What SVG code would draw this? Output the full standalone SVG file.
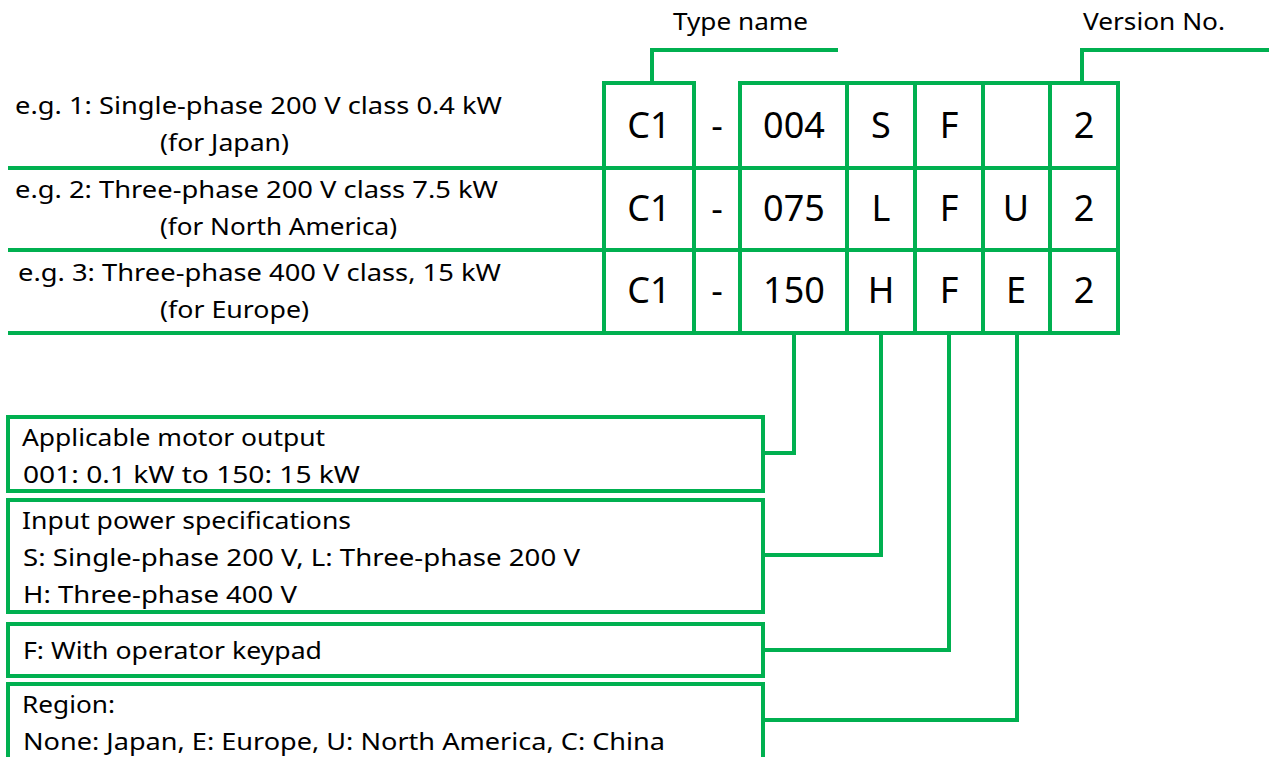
<svg xmlns="http://www.w3.org/2000/svg" width="1269" height="757" viewBox="0 0 1269 757">
<style>
.ln{fill:none;stroke:#00B050;stroke-width:4;stroke-linejoin:miter}
.bx{fill:#fff;stroke:#00B050;stroke-width:4}
.t{font-family:"Noto Sans","Liberation Sans",sans-serif;font-size:23px;fill:#000}
.c{font-family:"Noto Sans","Liberation Sans",sans-serif;font-size:36px;fill:#000;text-anchor:middle}
</style>
<rect width="1269" height="757" fill="#fff"/>
<g id="labels">
<text class="t" x="673" y="30" textLength="135" lengthAdjust="spacingAndGlyphs">Type name</text>
<text class="t" x="1083" y="30" textLength="142" lengthAdjust="spacingAndGlyphs">Version No.</text>
</g>
<g id="examples">
<text class="t" x="15" y="114" textLength="487" lengthAdjust="spacingAndGlyphs">e.g. 1: Single-phase 200 V class 0.4 kW</text>
<text class="t" x="160" y="151" textLength="129" lengthAdjust="spacingAndGlyphs">(for Japan)</text>
<text class="t" x="15" y="198" textLength="483" lengthAdjust="spacingAndGlyphs">e.g. 2: Three-phase 200 V class 7.5 kW</text>
<text class="t" x="160" y="235" textLength="237" lengthAdjust="spacingAndGlyphs">(for North America)</text>
<text class="t" x="18" y="281" textLength="483" lengthAdjust="spacingAndGlyphs">e.g. 3: Three-phase 400 V class, 15 kW</text>
<text class="t" x="160" y="318" textLength="149" lengthAdjust="spacingAndGlyphs">(for Europe)</text>
<line class="ln" x1="8" y1="168" x2="1118" y2="168" stroke-width="3"/>
<line class="ln" x1="8" y1="250" x2="1118" y2="250" stroke-width="3"/>
<line class="ln" x1="8" y1="333" x2="604" y2="333" stroke-width="3"/>
</g>
<g id="code-table">
<rect class="ln" x="604" y="83" width="90" height="250"/>
<path class="ln" d="M694 333H740"/>
<rect class="ln" x="740" y="83" width="378" height="250"/>
<line class="ln" x1="847" y1="83" x2="847" y2="333"/>
<line class="ln" x1="915" y1="83" x2="915" y2="333"/>
<line class="ln" x1="983" y1="83" x2="983" y2="333"/>
<line class="ln" x1="1050" y1="83" x2="1050" y2="333"/>
<text class="c" x="649" y="138">C1</text>
<text class="c" x="717" y="138">-</text>
<text class="c" x="794" y="138">004</text>
<text class="c" x="881" y="138">S</text>
<text class="c" x="949" y="138">F</text>
<text class="c" x="1084" y="138">2</text>
<text class="c" x="649" y="221">C1</text>
<text class="c" x="717" y="221">-</text>
<text class="c" x="794" y="221">075</text>
<text class="c" x="881" y="221">L</text>
<text class="c" x="949" y="221">F</text>
<text class="c" x="1016" y="221">U</text>
<text class="c" x="1084" y="221">2</text>
<text class="c" x="649" y="303">C1</text>
<text class="c" x="717" y="303">-</text>
<text class="c" x="794" y="303">150</text>
<text class="c" x="881" y="303">H</text>
<text class="c" x="949" y="303">F</text>
<text class="c" x="1016" y="303">E</text>
<text class="c" x="1084" y="303">2</text>
</g>
<g id="box-output">
<rect class="bx" x="8" y="417" width="755" height="74"/>
<text class="t" x="22" y="446" textLength="303" lengthAdjust="spacingAndGlyphs">Applicable motor output</text>
<text class="t" x="23" y="483" textLength="337" lengthAdjust="spacingAndGlyphs">001: 0.1 kW to 150: 15 kW</text>
</g>
<g id="box-power">
<rect class="bx" x="8" y="500" width="755" height="112"/>
<text class="t" x="22" y="529" textLength="329" lengthAdjust="spacingAndGlyphs">Input power specifications</text>
<text class="t" x="23" y="566" textLength="557" lengthAdjust="spacingAndGlyphs">S: Single-phase 200 V, L: Three-phase 200 V</text>
<text class="t" x="23" y="603" textLength="274" lengthAdjust="spacingAndGlyphs">H: Three-phase 400 V</text>
</g>
<g id="box-keypad">
<rect class="bx" x="8" y="624" width="755" height="52"/>
<text class="t" x="23" y="659" textLength="299" lengthAdjust="spacingAndGlyphs">F: With operator keypad</text>
</g>
<g id="box-region">
<rect class="bx" x="8" y="684" width="755" height="90"/>
<text class="t" x="22" y="713" textLength="93" lengthAdjust="spacingAndGlyphs">Region:</text>
<text class="t" x="23" y="750" textLength="642" lengthAdjust="spacingAndGlyphs">None: Japan, E: Europe, U: North America, C: China</text>
</g>
<g id="connectors">
<path class="ln" d="M652 83V50H838"/>
<path class="ln" d="M1082 83V50H1269"/>
<path class="ln" d="M794 333V453H763"/>
<path class="ln" d="M881 333V555H763"/>
<path class="ln" d="M949 333V650H763"/>
<path class="ln" d="M1017 333V720H763"/>
</g>
</svg>
